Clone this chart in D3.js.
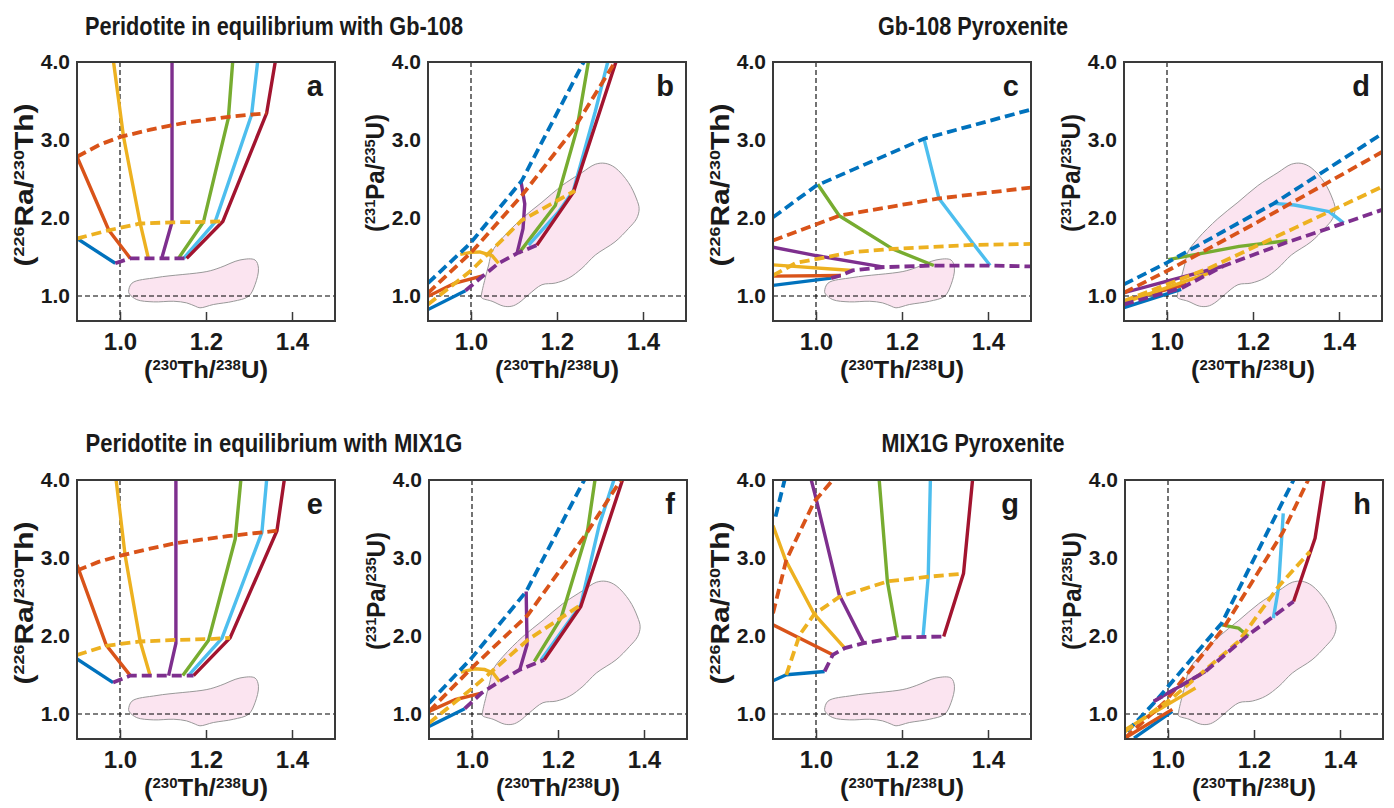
<!DOCTYPE html>
<html><head><meta charset="utf-8">
<script src="https://cdn.jsdelivr.net/npm/d3@7"></script>
<style>
body{margin:0;background:#fff}
text{font-family:"Liberation Sans",Arial,Helvetica,sans-serif;font-weight:bold;fill:#1a1a1a}
</style>
</head><body><svg id="chart" width="1394" height="808"></svg>
<script>
// ---------------- DATA ----------------
const xTicks = [1.0, 1.2, 1.4];
const yTicks = [1.0, 2.0, 3.0, 4.0];
const titles = [
  {text:"Peridotite in equilibrium with Gb-108"},
  {text:"Gb-108 Pyroxenite"},
  {text:"Peridotite in equilibrium with MIX1G"},
  {text:"MIX1G Pyroxenite"}
];
// observed field (226Ra/230Th vs 230Th/238U)
const fieldRaTh = [[1.020,1.06],[1.028,1.166],[1.086,1.238],[1.202,1.314],[1.233,1.365],[1.279,1.462],[1.314,1.462],[1.322,1.356],[1.314,1.145],[1.299,0.997],[1.264,0.933],[1.217,0.891],[1.186,0.849],[1.175,0.870],[1.155,0.912],[1.125,0.933],[1.078,0.925],[1.039,0.954],[1.022,1.026]];
// observed field (231Pa/235U vs 230Th/238U)
const fieldPaU = [[1.024,0.997],[1.033,1.229],[1.041,1.398],[1.049,1.568],[1.072,1.737],[1.118,1.991],[1.165,2.202],[1.211,2.414],[1.258,2.583],[1.289,2.689],[1.312,2.701],[1.335,2.646],[1.366,2.456],[1.385,2.244],[1.391,2.118],[1.385,1.991],[1.366,1.864],[1.335,1.695],[1.289,1.525],[1.258,1.356],[1.227,1.229],[1.196,1.166],[1.165,1.145],[1.134,1.018],[1.111,0.912],[1.095,0.870],[1.076,0.870],[1.049,0.933],[1.025,0.975]];

// panel a
const aSolid = [
  {k:"blue",   pts:[[0.9,1.737],[0.989,1.42]]},
  {k:"orange", pts:[[0.9,2.786],[0.974,1.843],[1.024,1.483]]},
  {k:"yellow", pts:[[0.985,4.0],[1.008,3.048],[1.047,1.93],[1.066,1.483]]},
  {k:"purple", pts:[[1.121,4.0],[1.121,1.948],[1.097,1.483]]},
  {k:"green",  pts:[[1.262,4.0],[1.252,3.281],[1.194,1.948],[1.136,1.483]]},
  {k:"cyan",   pts:[[1.320,4.0],[1.306,3.323],[1.221,1.948],[1.148,1.483]]},
  {k:"red",    pts:[[1.361,4.0],[1.341,3.344],[1.239,1.955],[1.155,1.483]]}
];
const aDashed = [
  {k:"orange", pts:[[0.9,2.786],[0.954,2.943],[1.001,3.04],[1.071,3.133],[1.148,3.218],[1.248,3.294],[1.341,3.344]]},
  {k:"yellow", pts:[[0.9,1.737],[0.974,1.843],[1.047,1.93],[1.121,1.945],[1.194,1.95],[1.239,1.957]]},
  {k:"purple", pts:[[0.989,1.42],[1.024,1.483],[1.155,1.483]]}
];
// panel b
const bSolid = [
  {k:"blue",   pts:[[0.9,0.827],[0.987,1.069]]},
  {k:"orange", pts:[[0.9,0.997],[0.963,1.166],[1.029,1.263]]},
  {k:"yellow", pts:[[0.975,1.534],[1.0,1.56],[1.02,1.565],[1.049,1.517],[1.064,1.42]]},
  {k:"purple", pts:[[1.116,2.477],[1.125,2.181],[1.121,1.864],[1.107,1.547]]},
  {k:"green",  pts:[[1.273,4.0],[1.246,3.133],[1.196,2.16],[1.111,1.547]]},
  {k:"cyan",   pts:[[1.318,4.0],[1.289,3.365],[1.238,2.35],[1.203,2.075],[1.134,1.652]]},
  {k:"red",    pts:[[1.337,4.0],[1.238,2.329],[1.153,1.652]]}
];
const bDashed = [
  {k:"blue",   pts:[[0.9,1.166],[0.998,1.673],[1.118,2.477],[1.262,4.0]]},
  {k:"orange", pts:[[0.9,1.039],[1.002,1.568],[1.118,2.287],[1.238,3.133],[1.335,4.0]]},
  {k:"yellow", pts:[[0.9,0.891],[1.002,1.335],[1.118,1.97],[1.242,2.35]]},
  {k:"purple", pts:[[0.987,1.069],[1.029,1.263],[1.064,1.42],[1.107,1.547],[1.153,1.652]]}
];
// panel c
const cSolid = [
  {k:"blue",   pts:[[0.9,1.136],[1.035,1.23]]},
  {k:"orange", pts:[[0.9,1.255],[1.058,1.264]]},
  {k:"yellow", pts:[[0.9,1.4],[1.085,1.328]]},
  {k:"purple", pts:[[0.9,1.626],[1.0,1.519],[1.158,1.37]]},
  {k:"green",  pts:[[1.004,2.434],[1.054,2.03],[1.178,1.604],[1.274,1.391]]},
  {k:"cyan",   pts:[[1.251,3.017],[1.286,2.251],[1.363,1.689],[1.405,1.391]]}
];
const cDashed = [
  {k:"blue",   pts:[[0.9,2.009],[1.0,2.413],[1.251,3.017],[1.5,3.391]]},
  {k:"orange", pts:[[0.9,1.711],[1.054,2.03],[1.286,2.251],[1.5,2.391]]},
  {k:"yellow", pts:[[0.9,1.264],[0.954,1.426],[1.085,1.562],[1.178,1.604],[1.363,1.655],[1.5,1.668]]},
  {k:"purple", pts:[[1.035,1.23],[1.058,1.264],[1.085,1.328],[1.158,1.37],[1.274,1.391],[1.405,1.391],[1.5,1.379]]}
];
// panel d
const dSolid = [
  {k:"blue",   pts:[[0.9,0.852],[1.033,1.085]]},
  {k:"orange", pts:[[0.9,0.937],[1.045,1.149]]},
  {k:"yellow", pts:[[0.9,0.916],[1.099,1.297]]},
  {k:"purple", pts:[[0.9,1.043],[1.13,1.382]]},
  {k:"green",  pts:[[1.003,1.467],[1.168,1.637],[1.28,1.709]]},
  {k:"cyan",   pts:[[1.249,2.188],[1.296,2.167],[1.377,2.082],[1.411,1.934]]}
];
const dDashed = [
  {k:"blue",   pts:[[0.9,1.149],[0.999,1.425],[1.249,2.188],[1.5,3.079]]},
  {k:"orange", pts:[[0.9,1.043],[1.003,1.33],[1.199,1.913],[1.5,2.846]]},
  {k:"yellow", pts:[[0.9,0.937],[1.099,1.36],[1.3,1.88],[1.5,2.4]]},
  {k:"purple", pts:[[0.9,0.894],[1.033,1.1],[1.13,1.382],[1.28,1.69],[1.411,1.934],[1.5,2.104]]}
];
// panel e
const eSolid = [
  {k:"blue",   pts:[[0.9,1.705],[0.984,1.403]]},
  {k:"orange", pts:[[0.9,2.912],[0.968,1.884],[1.024,1.493]]},
  {k:"yellow", pts:[[0.991,4.0],[1.012,3.031],[1.047,1.93],[1.07,1.493]]},
  {k:"purple", pts:[[1.13,4.0],[1.13,1.905],[1.113,1.493]]},
  {k:"green",  pts:[[1.281,4.0],[1.268,3.244],[1.206,1.947],[1.146,1.493]]},
  {k:"cyan",   pts:[[1.341,4.0],[1.33,3.329],[1.237,1.969],[1.159,1.493]]},
  {k:"red",    pts:[[1.382,4.0],[1.365,3.35],[1.256,1.977],[1.171,1.493]]}
];
const eDashed = [
  {k:"orange", pts:[[0.9,2.84],[0.95,2.95],[1.001,3.031],[1.07,3.12],[1.132,3.193],[1.25,3.28],[1.365,3.35]]},
  {k:"yellow", pts:[[0.9,1.756],[0.968,1.875],[1.047,1.93],[1.13,1.95],[1.206,1.96],[1.256,1.977]]},
  {k:"purple", pts:[[0.984,1.403],[1.024,1.493],[1.171,1.493]]}
];
// panel f
const fSolid = [
  {k:"blue",   pts:[[0.9,0.842],[0.983,1.068]]},
  {k:"orange", pts:[[0.9,1.034],[0.96,1.183],[1.022,1.268]]},
  {k:"yellow", pts:[[0.974,1.537],[1.006,1.58],[1.03,1.57],[1.049,1.525],[1.064,1.418]]},
  {k:"purple", pts:[[1.126,2.57],[1.128,1.887],[1.111,1.567]]},
  {k:"green",  pts:[[1.286,4.0],[1.269,3.36],[1.207,2.229],[1.145,1.674]]},
  {k:"cyan",   pts:[[1.33,4.0],[1.296,3.424],[1.253,2.399],[1.161,1.695]]},
  {k:"red",    pts:[[1.35,4.0],[1.253,2.378],[1.168,1.695]]}
];
const fDashed = [
  {k:"blue",   pts:[[0.9,1.14],[0.999,1.717],[1.126,2.57],[1.261,4.0]]},
  {k:"orange", pts:[[0.9,1.034],[0.999,1.589],[1.13,2.271],[1.269,3.338],[1.346,4.0]]},
  {k:"yellow", pts:[[0.9,0.884],[1.006,1.354],[1.13,1.951],[1.253,2.399]]},
  {k:"purple", pts:[[0.983,1.068],[1.022,1.268],[1.064,1.418],[1.111,1.567],[1.168,1.695]]}
];
// panel g
const gSolid = [
  {k:"blue",   pts:[[0.9,1.426],[0.931,1.503],[1.02,1.546]]},
  {k:"orange", pts:[[0.9,2.143],[1.039,1.759]]},
  {k:"yellow", pts:[[0.9,3.415],[0.929,2.976],[0.996,2.28],[1.067,1.845]]},
  {k:"purple", pts:[[0.989,4.0],[1.0,3.765],[1.054,2.528],[1.111,1.909]]},
  {k:"green",  pts:[[1.147,4.0],[1.166,2.7],[1.189,1.981]]},
  {k:"cyan",   pts:[[1.266,4.0],[1.261,2.76],[1.249,1.994]]},
  {k:"red",    pts:[[1.364,4.0],[1.343,2.8],[1.297,1.994]]}
];
const gDashed = [
  {k:"blue",   pts:[[0.906,3.531],[0.927,4.0]]},
  {k:"orange", pts:[[0.9,2.293],[0.931,2.976],[0.996,3.723],[1.039,4.0]]},
  {k:"yellow", pts:[[0.931,1.503],[0.962,2.015],[0.996,2.28],[1.054,2.5],[1.166,2.7],[1.261,2.76],[1.343,2.8]]},
  {k:"purple", pts:[[1.02,1.546],[1.039,1.759],[1.067,1.845],[1.111,1.909],[1.189,1.981],[1.297,1.994]]}
];
// panel h
const hSolid = [
  {k:"blue",   pts:[[0.921,0.692],[1.01,1.034]]},
  {k:"orange", pts:[[0.9,0.692],[1.01,1.06]]},
  {k:"yellow", pts:[[0.9,0.8],[1.064,1.333]]},
  {k:"purple", pts:[[0.967,1.162],[1.087,1.546]]},
  {k:"green",  pts:[[1.125,2.143],[1.164,2.101],[1.187,1.994]]},
  {k:"cyan",   pts:[[1.268,3.573],[1.257,2.613],[1.245,2.229]]},
  {k:"red",    pts:[[1.363,4.0],[1.342,3.253],[1.292,2.442]]}
];
const hDashed = [
  {k:"blue",   pts:[[0.905,0.778],[0.971,1.162],[1.125,2.165],[1.292,4.0]]},
  {k:"orange", pts:[[0.9,0.692],[0.994,1.162],[1.129,2.101],[1.268,3.338],[1.326,4.0]]},
  {k:"yellow", pts:[[0.9,0.778],[1.01,1.205],[1.164,1.93],[1.257,2.634],[1.33,3.082]]},
  {k:"purple", pts:[[0.967,1.162],[1.087,1.546],[1.187,2.015],[1.292,2.442]]}
];

// ---------------- STYLE / LAYOUT ----------------
const colors = {blue:"#0072BD", orange:"#D95319", yellow:"#EDB120", purple:"#7E2F8E",
                green:"#77AC30", cyan:"#4DBEEE", red:"#A2142F"};
const PW = 258, PH = 259;
const panels = [
  {id:"a", x:77,   y:62,  type:"ra", solid:aSolid, dashed:aDashed},
  {id:"b", x:428,  y:62,  type:"pa", solid:bSolid, dashed:bDashed},
  {id:"c", x:773,  y:62,  type:"ra", solid:cSolid, dashed:cDashed},
  {id:"d", x:1124, y:62,  type:"pa", solid:dSolid, dashed:dDashed},
  {id:"e", x:77,   y:480, type:"ra", solid:eSolid, dashed:eDashed},
  {id:"f", x:429,  y:480, type:"pa", solid:fSolid, dashed:fDashed},
  {id:"g", x:773,  y:480, type:"ra", solid:gSolid, dashed:gDashed},
  {id:"h", x:1125, y:480, type:"pa", solid:hSolid, dashed:hDashed}
];
const titlePos = [
  {cx:274, y:35, len:378},
  {cx:973, y:35, len:190},
  {cx:274, y:452, len:377},
  {cx:973, y:452, len:183}
];

const svg = d3.select("#chart");

function rich(sel, parts, big, small, up){
  parts.forEach(p => {
    if (p[1]) {
      sel.append("tspan").attr("font-size", small).attr("dy", -up).text(p[0]);
    } else {
      sel.append("tspan").attr("font-size", big).attr("dy", p[2] ? up : 0).text(p[0]);
    }
  });
}

titles.forEach((t,i) => {
  const p = titlePos[i];
  svg.append("text").attr("x", p.cx).attr("y", p.y).attr("text-anchor","middle")
    .attr("font-size", 25).attr("textLength", p.len).attr("lengthAdjust","spacingAndGlyphs")
    .text(t.text);
});

panels.forEach(P => {
  const x = d3.scaleLinear().domain([0.9, 1.5]).range([P.x, P.x + PW]);
  const y = d3.scaleLinear().domain([0.68, 4.0]).range([P.y + PH, P.y]);
  const g = svg.append("g");
  const cid = "clip-" + P.id;
  g.append("clipPath").attr("id", cid).append("rect")
    .attr("x", P.x).attr("y", P.y).attr("width", PW).attr("height", PH);
  const inner = g.append("g").attr("clip-path", `url(#${cid})`);
  const line = d3.line().x(d => x(d[0])).y(d => y(d[1]));

  // observed field
  const field = P.type === "ra" ? fieldRaTh : fieldPaU;
  inner.append("path")
    .attr("d", d3.line().x(d => x(d[0])).y(d => y(d[1])).curve(d3.curveCatmullRomClosed.alpha(0.5))(field))
    .attr("fill", "#fbe4f0").attr("stroke", "#999").attr("stroke-width", 1);

  // reference lines
  inner.append("line").attr("x1", x(1.0)).attr("x2", x(1.0)).attr("y1", P.y).attr("y2", P.y+PH)
    .attr("stroke","#000").attr("stroke-width",1.1).attr("stroke-dasharray","5,3");
  inner.append("line").attr("x1", P.x).attr("x2", P.x+PW).attr("y1", y(1.0)).attr("y2", y(1.0))
    .attr("stroke","#000").attr("stroke-width",1.1).attr("stroke-dasharray","5,3");

  // model curves
  P.solid.forEach(s => {
    inner.append("path").attr("d", line(s.pts)).attr("fill","none")
      .attr("stroke", colors[s.k]).attr("stroke-width", 3.4).attr("stroke-linejoin","round");
  });
  P.dashed.forEach(s => {
    inner.append("path").attr("d", line(s.pts)).attr("fill","none")
      .attr("stroke", colors[s.k]).attr("stroke-width", 3.8).attr("stroke-dasharray","10,5");
  });

  // frame
  g.append("rect").attr("x", P.x).attr("y", P.y).attr("width", PW).attr("height", PH)
    .attr("fill","none").attr("stroke","#3a3a3a").attr("stroke-width",2);

  // x axis ticks (inward) and labels
  const xAxis = d3.axisBottom(x).tickValues(xTicks).tickSize(-9).tickPadding(0).tickFormat(d3.format(".1f"));
  const xa = g.append("g").attr("transform", `translate(0,${P.y+PH})`).call(xAxis);
  xa.select(".domain").remove();
  xa.selectAll(".tick line").attr("stroke","#3a3a3a").attr("stroke-width",1.5);
  xa.selectAll(".tick text").attr("font-size",24).attr("font-family",null).attr("fill","#1a1a1a")
    .attr("y", 29).attr("dy", 0);

  // y axis labels
  const yAxis = d3.axisLeft(y).tickValues(yTicks).tickSize(0).tickPadding(7).tickFormat(d3.format(".1f"));
  const ya = g.append("g").attr("transform", `translate(${P.x},0)`).call(yAxis);
  ya.select(".domain").remove();
  ya.selectAll(".tick text").attr("font-size",21).attr("font-family",null).attr("fill","#1a1a1a");

  // panel letter
  g.append("text").attr("x", P.x + PW - 12).attr("y", P.y + 34).attr("text-anchor","end")
    .attr("font-size", 29).text(P.id);

  // x label
  const xl = g.append("text").attr("x", P.x + PW/2).attr("y", P.y + PH + 57).attr("text-anchor","middle")
    .attr("textLength", 124).attr("lengthAdjust","spacingAndGlyphs");
  rich(xl, [["(",0],["230",1],["Th/",0,1],["238",1],["U)",0,1]], 24, 14, 8);

  // y label
  const isRa = P.type === "ra";
  const cy = P.y + (isRa ? 123 : 111);
  const yl = g.append("text").attr("transform", `translate(${P.x - 44},${cy}) rotate(-90)`)
    .attr("text-anchor","middle")
    .attr("textLength", isRa ? 163 : 118).attr("lengthAdjust","spacingAndGlyphs");
  if (isRa) rich(yl, [["(",0],["226",1],["Ra/",0,1],["230",1],["Th)",0,1]], 25, 15, 9);
  else rich(yl, [["(",0],["231",1],["Pa/",0,1],["235",1],["U)",0,1]], 25, 15, 9);
});
</script></body></html>
